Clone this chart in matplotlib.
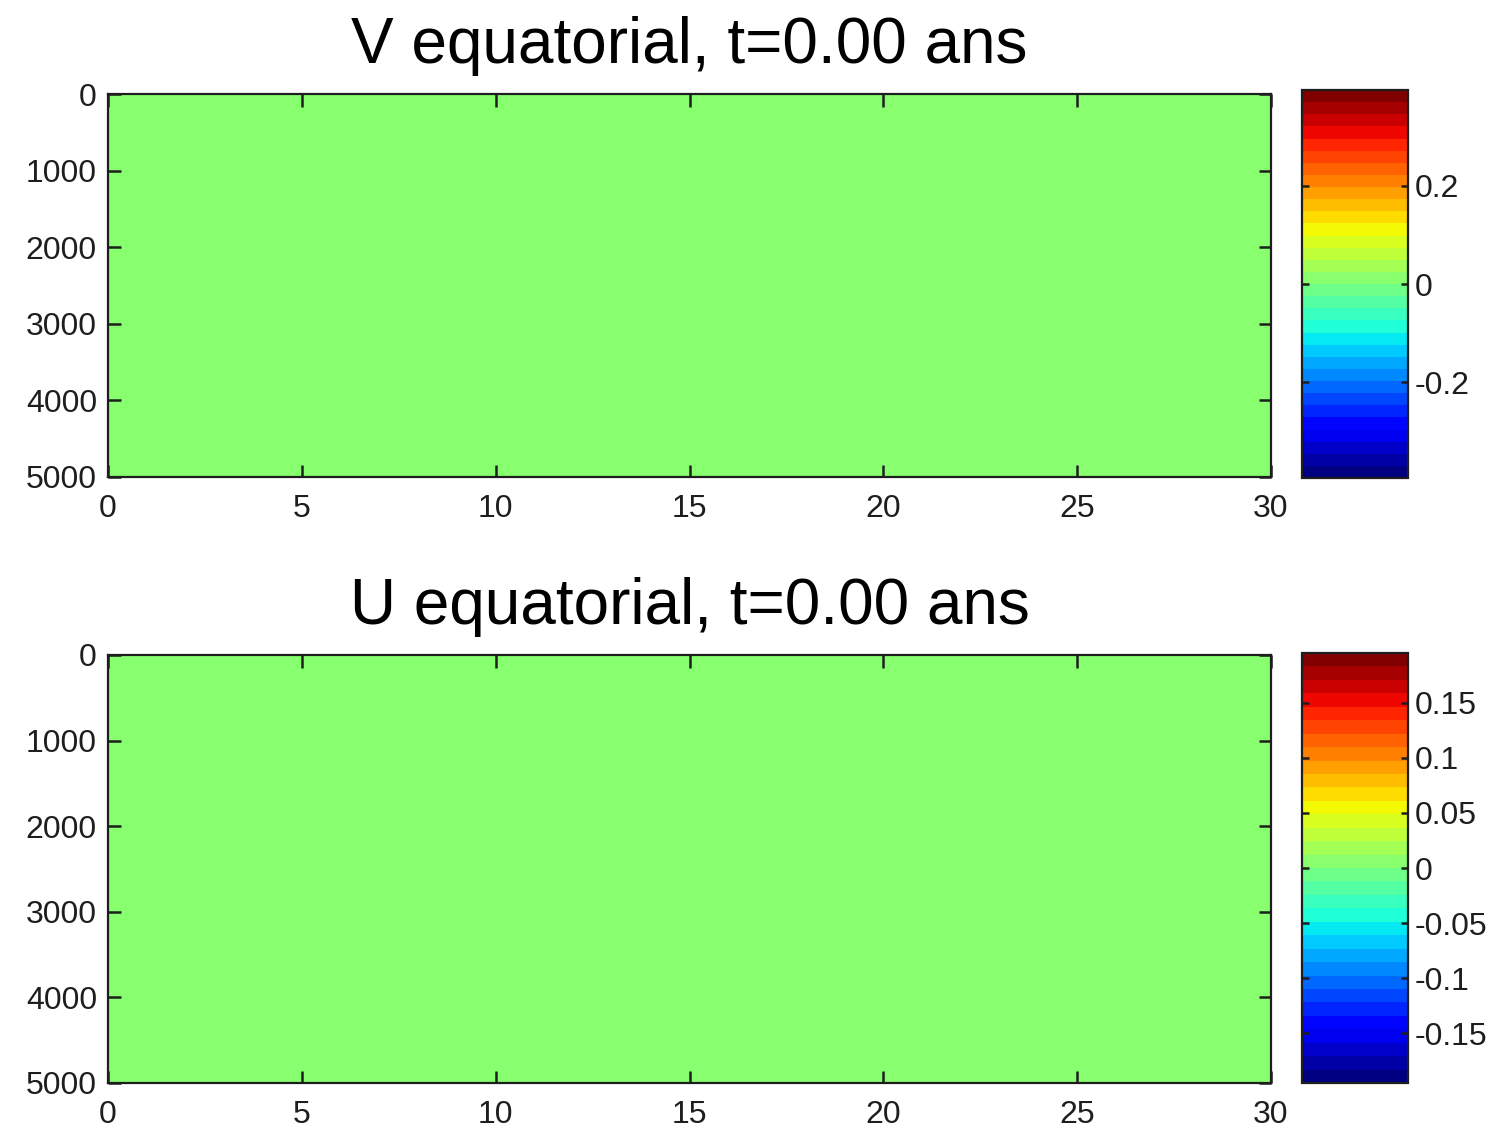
"""Equatorial velocity sections (V and U) at t=0, depth vs. time axes."""

import numpy as np
import matplotlib

matplotlib.use("Agg")
from matplotlib import pyplot as plt

plt.rcParams["font.family"] = ["Liberation Sans", "DejaVu Sans"]

# ---- data -------------------------------------------------------------
time_range = [0, 30]          # x extent
depth_range = [0, 5000]       # y extent (m), downward
time_ticks = [0, 5, 10, 15, 20, 25, 30]
depth_ticks = [0, 1000, 2000, 3000, 4000, 5000]

n_depth, n_time = 50, 120
v_field = np.zeros((n_depth, n_time))   # initial state: no motion
u_field = np.zeros((n_depth, n_time))

v_limit = 0.395
u_limit = 0.195
v_cbar_ticks = [-0.2, 0, 0.2]
u_cbar_ticks = [-0.15, -0.1, -0.05, 0, 0.05, 0.1, 0.15]

titles = ["V equatorial, t=0.00 ans", "U equatorial, t=0.00 ans"]

# ---- layout -----------------------------------------------------------
W, H = 1505, 1128
fig = plt.figure(figsize=(W / 100, H / 100), dpi=100)


def frac(x0, y0, x1, y1):
    """Pixel box (top-left origin) -> figure-fraction rect."""
    return [x0 / W, 1 - y1 / H, (x1 - x0) / W, (y1 - y0) / H]


panels = [
    (v_field, v_limit, v_cbar_ticks, frac(108, 94, 1271, 477), frac(1302, 90, 1408, 478)),
    (u_field, u_limit, u_cbar_ticks, frac(108, 655, 1271, 1083), frac(1302, 653, 1408, 1083)),
]

cmap = plt.get_cmap("jet", 32)
ink = "#1e1e1e"

for (field, lim, cticks, rect, crect), title in zip(panels, titles):
    ax = fig.add_axes(rect)
    im = ax.imshow(
        field,
        cmap=cmap,
        vmin=-lim,
        vmax=lim,
        aspect="auto",
        interpolation="nearest",
        extent=[time_range[0], time_range[1], depth_range[1], depth_range[0]],
    )
    ax.set_xlim(time_range)
    ax.set_ylim(depth_range[1], depth_range[0])
    ax.set_xticks(time_ticks)
    ax.set_yticks(depth_ticks)
    ax.tick_params(axis="both", direction="in", length=9, width=1.8, color=ink,
                   labelsize=23, labelcolor=ink, top=True, right=True)
    ax.tick_params(axis="x", pad=12)
    ax.tick_params(axis="y", pad=8)
    for sp in ax.spines.values():
        sp.set_linewidth(1.6)
        sp.set_color(ink)
    ax.set_title(title, fontsize=46, color="black", pad=22)

    cax = fig.add_axes(crect)
    cb = fig.colorbar(im, cax=cax)
    cb.set_ticks(cticks)
    cb.set_ticklabels([f"{t:g}" for t in cticks])
    cb.outline.set_linewidth(1.6)
    cb.outline.set_edgecolor(ink)
    cax.tick_params(direction="in", length=5, width=1.8, color=ink,
                    labelsize=23, labelcolor=ink, left=True, right=True, pad=5)

fig.savefig("out.png", dpi=100)
